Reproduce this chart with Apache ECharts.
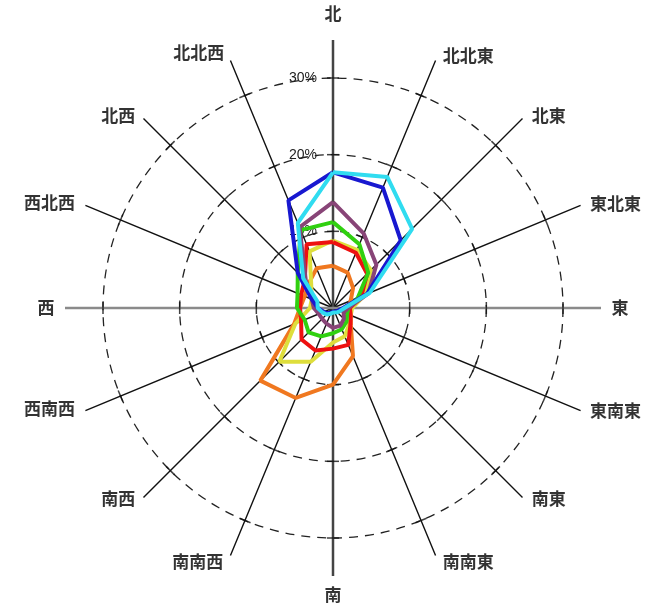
<!DOCTYPE html>
<html>
<head>
<meta charset="utf-8">
<script src="https://cdn.jsdelivr.net/npm/echarts@6/dist/echarts.min.js"></script>
<style>
  html, body { margin: 0; padding: 0; background: #fff; }
  #chart { width: 653px; height: 607px; }
</style>
</head>
<body>
<div id="chart"></div>
<script>
// 16 directions, clockwise from north
const directions = ['北', '北北東', '北東', '東北東', '東', '東南東', '南東', '南南東',
  '南', '南南西', '南西', '西南西', '西', '西北西', '北西', '北北西'];
const mainDirections = ['北', '東', '南', '西'];
const ringTicks = [10, 20, 30];
const spokeEnd = 35;

// frequency (%) per direction
const orangeValues = [5.5, 5.0, 3.7, 2.5, 2.0, 2.5, 3.3, 6.8, 10.0, 12.7, 13.4, 5.5, 4.3, 4.0, 4.5, 5.6];
const yellowValues = [8.8, 8.2, 7.0, 4.5, 2.5, 2.5, 3.0, 4.0, 4.5, 7.6, 9.9, 5.3, 3.0, 3.0, 4.0, 8.0];
const redValues = [8.6, 7.8, 6.3, 4.0, 2.2, 2.5, 3.2, 5.2, 5.3, 6.0, 5.8, 4.5, 4.3, 4.5, 5.2, 9.0];
const greenValues = [11.2, 9.0, 6.5, 3.5, 2.0, 2.0, 2.5, 3.0, 3.3, 4.0, 4.5, 4.0, 4.7, 5.0, 6.5, 11.0];
const purpleValues = [13.8, 10.5, 8.0, 5.0, 2.0, 1.5, 2.0, 2.5, 2.6, 2.2, 2.0, 2.0, 2.5, 3.0, 5.0, 11.4];
const blueValues = [17.7, 17.0, 12.5, 4.8, 1.3, 0.8, 0.6, 0.6, 0.5, 0.6, 1.0, 1.3, 2.0, 3.0, 6.5, 15.2];
const cyanValues = [17.7, 18.5, 14.6, 5.2, 1.5, 1.0, 0.8, 0.8, 0.6, 0.8, 1.2, 1.5, 2.0, 2.2, 5.5, 12.0];

const seriesList = [
  { values: orangeValues, color: '#f07820' },
  { values: yellowValues, color: '#dede3c' },
  { values: redValues, color: '#ee1010' },
  { values: greenValues, color: '#30d010' },
  { values: purpleValues, color: '#884477' },
  { values: blueValues, color: '#1818d0' },
  { values: cyanValues, color: '#30dcf0' }
];

// where each direction name sits next to the end of its spoke
const labelPlace = [
  ['top', 18, [0, 0]],
  ['right', 7, [0, -5]],
  ['right', 9, [0, -3]],
  ['right', 9, [0, -2]],
  ['right', 10, [0, 0]],
  ['right', 9, [0, 0]],
  ['right', 9, [0, 1]],
  ['right', 7, [0, 6]],
  ['bottom', 10, [0, 0]],
  ['left', 7, [0, 6]],
  ['left', 8, [0, 1]],
  ['left', 10, [0, -2]],
  ['left', 10, [0, 0]],
  ['left', 10, [0, -3]],
  ['left', 8, [0, -3]],
  ['left', 6, [0, -8]]
];

const center = [333, 308];
const step = 360 / directions.length;

// close each polygon by going round to 360 degrees
const closed = (values) => values.map((v, i) => [v, i * step]).concat([[values[0], 360]]);

const tickMarks = [];
directions.forEach((d, i) => {
  ringTicks.forEach((r) => {
    tickMarks.push({ value: [r, i * step], symbolRotate: -i * step });
  });
});

const dirLabels = directions.map((d, i) => ({
  value: [spokeEnd, i * step],
  name: d,
  label: {
    position: labelPlace[i][0],
    distance: labelPlace[i][1],
    offset: labelPlace[i][2]
  }
}));

const chart = echarts.init(document.getElementById('chart'));
chart.setOption({
  backgroundColor: '#ffffff',
  animation: false,
  polar: [
    { center: center, radius: 268 },
    { center: center, radius: 230 },
    { center: center, radius: 268 }
  ],
  angleAxis: [
    {
      polarIndex: 0,
      type: 'category',
      data: directions,
      startAngle: 90,
      clockwise: true,
      boundaryGap: false,
      axisLine: { show: false },
      axisTick: { show: false },
      axisLabel: { show: false },
      splitLine: { show: true, lineStyle: { color: '#111', width: 1.4 } }
    },
    {
      polarIndex: 1,
      type: 'value',
      min: 0,
      max: 360,
      startAngle: 90,
      clockwise: true,
      axisLine: { show: false },
      axisTick: { show: false },
      axisLabel: { show: false },
      splitLine: { show: false }
    },
    {
      polarIndex: 2,
      type: 'category',
      data: mainDirections,
      startAngle: 90,
      clockwise: true,
      boundaryGap: false,
      axisLine: { show: false },
      axisTick: { show: false },
      axisLabel: { show: false },
      splitLine: { show: true, lineStyle: { color: ['#444', '#8a8a8a'], width: 2.5 } }
    }
  ],
  radiusAxis: [
    {
      polarIndex: 0,
      min: 0,
      max: spokeEnd,
      axisLine: { show: false },
      axisTick: { show: false },
      axisLabel: { show: false },
      splitLine: { show: false }
    },
    {
      polarIndex: 1,
      min: 0,
      max: 30,
      interval: 10,
      axisLine: { show: false },
      axisTick: { show: false },
      axisLabel: {
        margin: 16,
        fontSize: 14,
        color: '#222',
        fontFamily: 'Liberation Sans',
        formatter: (v) => (v ? v + '%' : '')
      },
      splitLine: { show: true, lineStyle: { color: '#222', width: 1.3, type: [9, 7] } }
    },
    {
      polarIndex: 2,
      min: 0,
      max: spokeEnd,
      axisLine: { show: false },
      axisTick: { show: false },
      axisLabel: { show: false },
      splitLine: { show: false }
    }
  ],
  series: [
    {
      type: 'scatter',
      coordinateSystem: 'polar',
      polarIndex: 1,
      symbol: 'rect',
      symbolSize: [12, 1.5],
      itemStyle: { color: '#111' },
      silent: true,
      data: tickMarks
    },
    {
      type: 'scatter',
      coordinateSystem: 'polar',
      polarIndex: 1,
      symbolSize: 0.1,
      itemStyle: { color: 'rgba(0,0,0,0)' },
      silent: true,
      clip: false,
      label: {
        show: true,
        formatter: '{b}',
        fontSize: 17,
        fontWeight: 'bold',
        color: '#000',
        textBorderWidth: 0,
        fontFamily: 'Noto Sans CJK JP'
      },
      data: dirLabels
    }
  ].concat(seriesList.map((s) => ({
    type: 'line',
    coordinateSystem: 'polar',
    polarIndex: 1,
    symbol: 'none',
    clip: false,
    lineStyle: { color: s.color, width: 4 },
    data: closed(s.values)
  })))
});
</script>
</body>
</html>
